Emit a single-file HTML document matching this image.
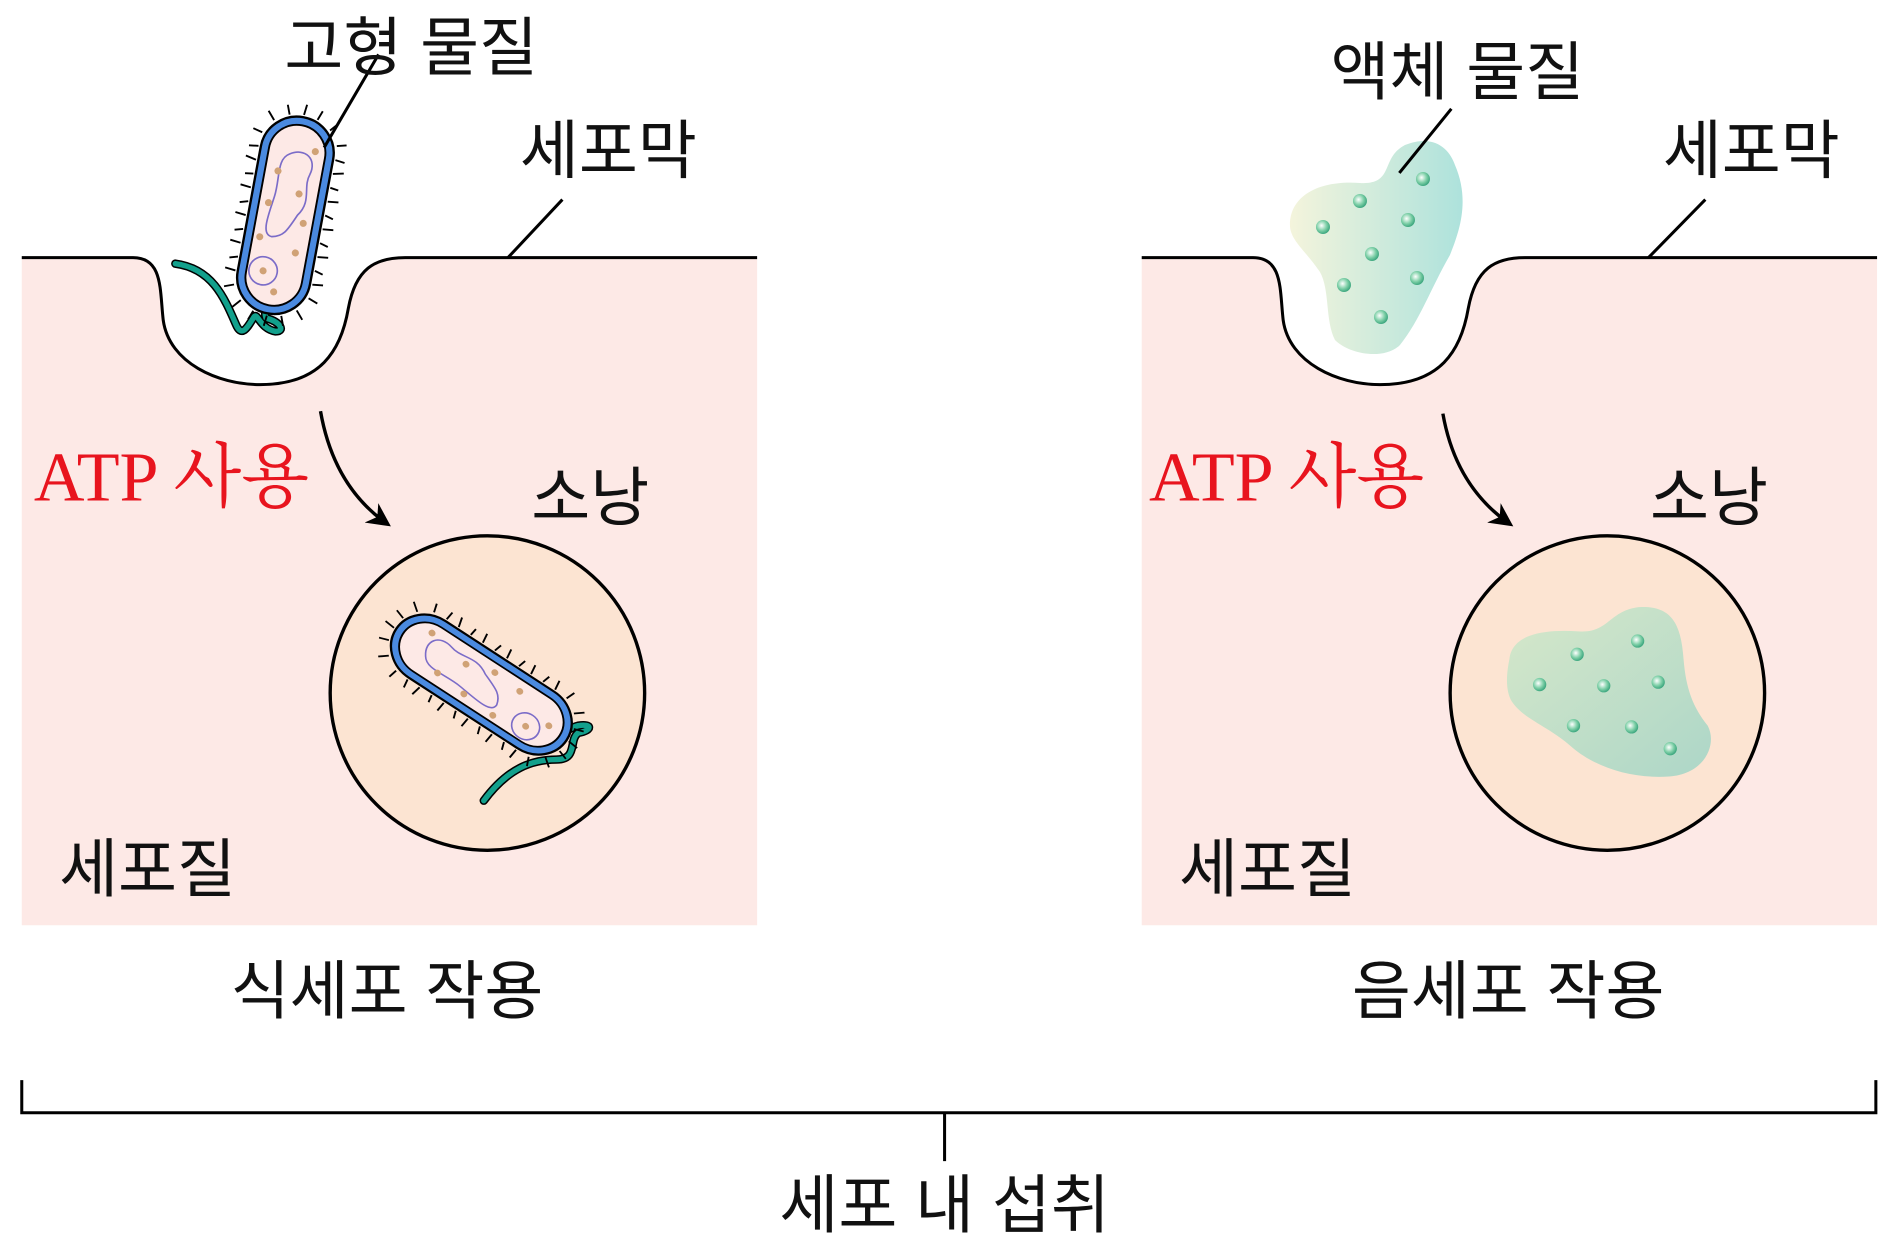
<!DOCTYPE html>
<html><head><meta charset="utf-8"><style>
html,body{margin:0;padding:0;background:#fff;}
svg{display:block;}
text{font-family:"Liberation Sans","Noto Sans CJK KR",sans-serif;fill:#111;}
.red{font-family:"Liberation Serif","Noto Serif CJK SC","Noto Sans CJK KR",serif;fill:#e8141e;}
</style></head><body>
<svg width="1894" height="1250" viewBox="0 0 1566 1033.5" preserveAspectRatio="none" xmlns="http://www.w3.org/2000/svg">
<defs>
<linearGradient id="bg1" x1="0" x2="1" y1="0" y2="0"><stop offset="0" stop-color="#f4f4dc"/><stop offset="1" stop-color="#ade2dc"/></linearGradient>
<linearGradient id="bg2" x1="0" x2="1" y1="0" y2="1"><stop offset="0" stop-color="#cfe8c8"/><stop offset="1" stop-color="#9fd4c6"/></linearGradient>
<radialGradient id="dot" cx="0.4" cy="0.4" r="0.6"><stop offset="0" stop-color="#fff"/><stop offset="0.6" stop-color="#7fd0a8"/><stop offset="1" stop-color="#3fa880"/></radialGradient>
<marker id="ah" viewBox="0 0 10 10" refX="8" refY="5" markerWidth="7" markerHeight="7" orient="auto"><path d="M0,0 L10,5 L0,10 L3,5 z" fill="#000"/></marker>
<g id="bact">
  <g stroke="#000" stroke-width="1.6">
    <line x1="-32" y1="-66" x2="-40" y2="-68"/><line x1="-33" y1="-54" x2="-41" y2="-53"/><line x1="-33" y1="-42" x2="-42" y2="-44"/><line x1="-33" y1="-30" x2="-40" y2="-29"/><line x1="-33" y1="-18" x2="-42" y2="-19"/><line x1="-33" y1="-6" x2="-40" y2="-4"/><line x1="-33" y1="6" x2="-42" y2="5"/><line x1="-33" y1="18" x2="-40" y2="20"/><line x1="-33" y1="30" x2="-42" y2="29"/><line x1="-33" y1="42" x2="-40" y2="44"/><line x1="-33" y1="54" x2="-42" y2="53"/><line x1="-32" y1="66" x2="-40" y2="69"/>
    <line x1="32" y1="-66" x2="40" y2="-68"/><line x1="33" y1="-54" x2="41" y2="-53"/><line x1="33" y1="-42" x2="42" y2="-44"/><line x1="33" y1="-30" x2="40" y2="-29"/><line x1="33" y1="-18" x2="42" y2="-19"/><line x1="33" y1="-6" x2="40" y2="-4"/><line x1="33" y1="6" x2="42" y2="5"/><line x1="33" y1="18" x2="40" y2="20"/><line x1="33" y1="30" x2="42" y2="29"/><line x1="33" y1="42" x2="40" y2="44"/><line x1="33" y1="54" x2="42" y2="53"/><line x1="32" y1="66" x2="40" y2="69"/>
    <line x1="-24" y1="-78" x2="-30" y2="-85"/><line x1="-12" y1="-85" x2="-15" y2="-93"/><line x1="0" y1="-87" x2="1" y2="-96"/><line x1="12" y1="-85" x2="15" y2="-93"/><line x1="24" y1="-78" x2="30" y2="-85"/>
    <line x1="-24" y1="78" x2="-30" y2="85"/><line x1="-12" y1="85" x2="-15" y2="93"/><line x1="0" y1="87" x2="-1" y2="96"/><line x1="12" y1="85" x2="15" y2="93"/><line x1="24" y1="78" x2="30" y2="85"/>
  </g>
  <rect x="-31" y="-85" width="62" height="170" rx="31" fill="#4a8ae0" stroke="#000" stroke-width="2"/>
  <rect x="-24" y="-78" width="48" height="156" rx="24" fill="#fde9e6" stroke="#000" stroke-width="1.6"/>
  <path d="M-6,-52 C6,-60 18,-52 14,-38 C10,-26 20,-16 10,-2 C4,12 2,18 -8,20 C-18,20 -14,2 -12,-14 C-10,-30 -16,-46 -6,-52 z" fill="none" stroke="#7b6cc8" stroke-width="1.4"/>
  <circle cx="-10" cy="50" r="12" fill="none" stroke="#7b6cc8" stroke-width="1.4"/>
  <g fill="#d0a276"><circle cx="-10" cy="50" r="3"/><circle cx="15" cy="-58" r="3"/><circle cx="-13" cy="-36" r="3"/><circle cx="8" cy="-20" r="3"/><circle cx="-16" cy="-8" r="3"/><circle cx="16" cy="4" r="3"/><circle cx="-18" cy="22" r="3"/><circle cx="14" cy="30" r="3"/><circle cx="2" cy="66" r="3"/></g>
</g>
</defs>

<!-- LEFT PANEL -->
<path d="M18,213 L110,213 C135,213 132,240 135,265 C140,300 180,318 215,318 C265,318 282,290 288,255 C294,222 310,213 335,213 L626,213 L626,765 L18,765 z" fill="#fde9e6"/>
<path d="M18,213 L110,213 C135,213 132,240 135,265 C140,300 180,318 215,318 C265,318 282,290 288,255 C294,222 310,213 335,213 L626,213" fill="none" stroke="#000" stroke-width="2.5"/>
<path d="M145,218 C175,222 185,245 195,268 C200,280 205,270 210,262 C213,258 215,272 228,274 C236,274 232,266 220,263 C218,258 220,250 222,245" fill="none" stroke="#000" stroke-width="7" stroke-linecap="round" stroke-linejoin="round"/>
<path d="M145,218 C175,222 185,245 195,268 C200,280 205,270 210,262 C213,258 215,272 228,274 C236,274 232,266 220,263 C218,258 220,250 222,245" fill="none" stroke="#12a08c" stroke-width="4.5" stroke-linecap="round" stroke-linejoin="round"/>
<use href="#bact" transform="translate(236,178) rotate(10.5) scale(0.98,0.97)"/>
<line x1="313" y1="45" x2="268" y2="122" stroke="#000" stroke-width="2.5"/>
<line x1="465" y1="165" x2="420" y2="213" stroke="#000" stroke-width="2.5"/>
<text x="340" y="58" font-size="53" text-anchor="middle">고형 물질</text>
<text x="503" y="143" font-size="53" text-anchor="middle">세포막</text>
<text class="red" x="28" y="414" font-size="58">ATP 사용</text>
<path d="M265,340 C272,380 290,412 320,433" fill="none" stroke="#000" stroke-width="2.8" marker-end="url(#ah)"/>
<text x="488" y="430" font-size="53" text-anchor="middle">소낭</text>
<circle cx="403" cy="573" r="130" fill="#fce4d2" stroke="#000" stroke-width="2.8"/>
<path d="M400,662 C420,635 440,628 460,628 C478,628 470,612 478,606 C490,604 490,598 478,600 C470,602 468,606 464,605" fill="none" stroke="#000" stroke-width="7" stroke-linecap="round" stroke-linejoin="round"/>
<path d="M400,662 C420,635 440,628 460,628 C478,628 470,612 478,606 C490,604 490,598 478,600 C470,602 468,606 464,605" fill="none" stroke="#12a08c" stroke-width="4.5" stroke-linecap="round" stroke-linejoin="round"/>
<use href="#bact" transform="translate(398,566) rotate(-57) scale(0.9,0.99)"/>
<text x="122" y="737" font-size="53" text-anchor="middle">세포질</text>
<text x="320" y="838" font-size="53" text-anchor="middle">식세포 작용</text>

<!-- RIGHT PANEL -->
<g transform="translate(926,0)">
<path d="M18,213 L110,213 C135,213 132,240 135,265 C140,300 180,318 215,318 C265,318 282,290 288,255 C294,222 310,213 335,213 L626,213 L626,765 L18,765 z" fill="#fde9e6"/>
<path d="M18,213 L110,213 C135,213 132,240 135,265 C140,300 180,318 215,318 C265,318 282,290 288,255 C294,222 310,213 335,213 L626,213" fill="none" stroke="#000" stroke-width="2.5"/>
</g>
<g transform="scale(0.8268)">
<path d="M1290,225 C1290,195 1320,180 1360,183 C1395,185 1380,158 1405,145 C1435,133 1450,150 1455,165 C1470,200 1460,230 1450,255 C1430,290 1420,320 1400,345 C1385,360 1350,355 1335,340 C1325,320 1330,290 1320,272 C1305,250 1290,240 1290,225 z" fill="url(#bg1)"/>
<g fill="url(#dot)"><circle cx="1423" cy="179" r="7"/><circle cx="1360" cy="201" r="7"/><circle cx="1323" cy="227" r="7"/><circle cx="1408" cy="220" r="7"/><circle cx="1372" cy="254" r="7"/><circle cx="1417" cy="278" r="7"/><circle cx="1344" cy="285" r="7"/><circle cx="1381" cy="317" r="7"/></g>
</g>
<line x1="1200" y1="90" x2="1157" y2="143" stroke="#000" stroke-width="2.5"/>
<line x1="1410" y1="165" x2="1363" y2="213" stroke="#000" stroke-width="2.5"/>
<text x="1205" y="78" font-size="53" text-anchor="middle">액체 물질</text>
<text x="1448" y="143" font-size="53" text-anchor="middle">세포막</text>
<text class="red" x="950" y="414" font-size="58">ATP 사용</text>
<path d="M1193,342 C1200,382 1218,412 1248,433" fill="none" stroke="#000" stroke-width="2.8" marker-end="url(#ah)"/>
<text x="1413" y="430" font-size="53" text-anchor="middle">소낭</text>
<circle cx="1329" cy="573" r="130" fill="#fce4d2" stroke="#000" stroke-width="2.8"/>
<path d="M1248,545 C1250,525 1275,520 1305,522 C1330,524 1330,505 1355,502 C1385,500 1390,520 1392,545 C1394,570 1400,585 1412,600 C1420,615 1410,640 1380,642 C1350,644 1320,635 1300,618 C1280,600 1260,595 1250,580 C1244,570 1246,555 1248,545 z" fill="url(#bg2)" opacity="0.85"/>
<g fill="url(#dot)"><circle cx="1354" cy="530" r="5.5"/><circle cx="1304" cy="541" r="5.5"/><circle cx="1273" cy="566" r="5.5"/><circle cx="1326" cy="567" r="5.5"/><circle cx="1371" cy="564" r="5.5"/><circle cx="1301" cy="600" r="5.5"/><circle cx="1349" cy="601" r="5.5"/><circle cx="1381" cy="619" r="5.5"/></g>
<text x="1048" y="737" font-size="53" text-anchor="middle">세포질</text>
<text x="1247" y="838" font-size="53" text-anchor="middle">음세포 작용</text>

<!-- BRACKET -->
<path d="M18,893 L18,920 L1551,920 L1551,893 M781,920 L781,960" fill="none" stroke="#000" stroke-width="2.5"/>
<text x="781" y="1015" font-size="53" text-anchor="middle">세포 내 섭취</text>
</svg>
</body></html>
